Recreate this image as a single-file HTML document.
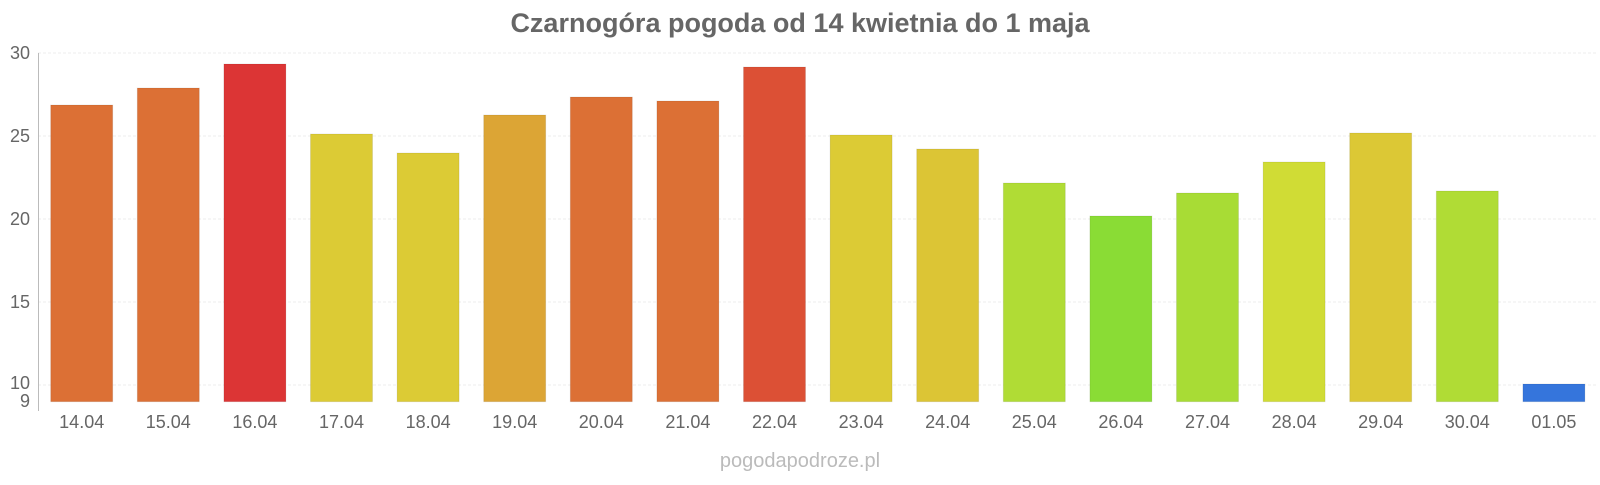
<!DOCTYPE html>
<html><head><meta charset="utf-8"><style>body{margin:0;background:#fff}</style></head><body>
<svg width="1600" height="480" xmlns="http://www.w3.org/2000/svg" font-family="Liberation Sans, sans-serif">
<text x="800" y="32" text-anchor="middle" font-size="27" font-weight="bold" fill="#666">Czarnogóra pogoda od 14 kwietnia do 1 maja</text>
<g stroke="#eee" stroke-dasharray="3,2">
<line x1="38" x2="1597" y1="53" y2="53"/><line x1="38" x2="1597" y1="136" y2="136"/><line x1="38" x2="1597" y1="219" y2="219"/><line x1="38" x2="1597" y1="302" y2="302"/><line x1="38" x2="1597" y1="385" y2="385"/>
</g>
<line x1="38.5" x2="38.5" y1="53" y2="411" stroke="#bbb"/>
<g font-size="18" fill="#666" text-anchor="end">
<text x="30" y="59">30</text><text x="30" y="142">25</text><text x="30" y="225">20</text><text x="30" y="308">15</text><text x="30" y="389">10</text><text x="30" y="407">9</text>
</g>
<g stroke="rgba(0,0,0,0.08)">
<rect x="50.7" y="105" width="62" height="296.7" fill="#dc7035"/>
<rect x="137.3" y="88" width="62" height="313.7" fill="#dc7035"/>
<rect x="223.9" y="64" width="62" height="337.7" fill="#dc3535"/>
<rect x="310.5" y="134" width="62" height="267.7" fill="#dccb35"/>
<rect x="397.1" y="153" width="62" height="248.7" fill="#dccb35"/>
<rect x="483.7" y="115" width="62" height="286.7" fill="#dca535"/>
<rect x="570.3" y="97" width="62" height="304.7" fill="#dc7035"/>
<rect x="656.9" y="101" width="62" height="300.7" fill="#dc7035"/>
<rect x="743.5" y="67" width="62" height="334.7" fill="#dc5035"/>
<rect x="830.1" y="135" width="62" height="266.7" fill="#dccb35"/>
<rect x="916.7" y="149" width="62" height="252.7" fill="#dcc535"/>
<rect x="1003.3" y="183" width="62" height="218.7" fill="#b0dc35"/>
<rect x="1089.9" y="216" width="62" height="185.7" fill="#8adc35"/>
<rect x="1176.5" y="193" width="62" height="208.7" fill="#a8dc35"/>
<rect x="1263.1" y="162" width="62" height="239.7" fill="#d0dc35"/>
<rect x="1349.7" y="133" width="62" height="268.7" fill="#dcc835"/>
<rect x="1436.3" y="191" width="62" height="210.7" fill="#b0dc35"/>
<rect x="1522.9" y="384" width="62" height="17.7" fill="#3575dc"/>
</g>
<g font-size="18" fill="#666" text-anchor="middle">
<text x="81.7" y="428">14.04</text><text x="168.3" y="428">15.04</text><text x="254.9" y="428">16.04</text><text x="341.5" y="428">17.04</text><text x="428.1" y="428">18.04</text><text x="514.7" y="428">19.04</text><text x="601.3" y="428">20.04</text><text x="687.9" y="428">21.04</text><text x="774.5" y="428">22.04</text><text x="861.1" y="428">23.04</text><text x="947.7" y="428">24.04</text><text x="1034.3" y="428">25.04</text><text x="1120.9" y="428">26.04</text><text x="1207.5" y="428">27.04</text><text x="1294.1" y="428">28.04</text><text x="1380.7" y="428">29.04</text><text x="1467.3" y="428">30.04</text><text x="1553.9" y="428">01.05</text>
</g>
<text x="800" y="467" text-anchor="middle" font-size="20" fill="#bbb">pogodapodroze.pl</text>
</svg>
</body></html>
